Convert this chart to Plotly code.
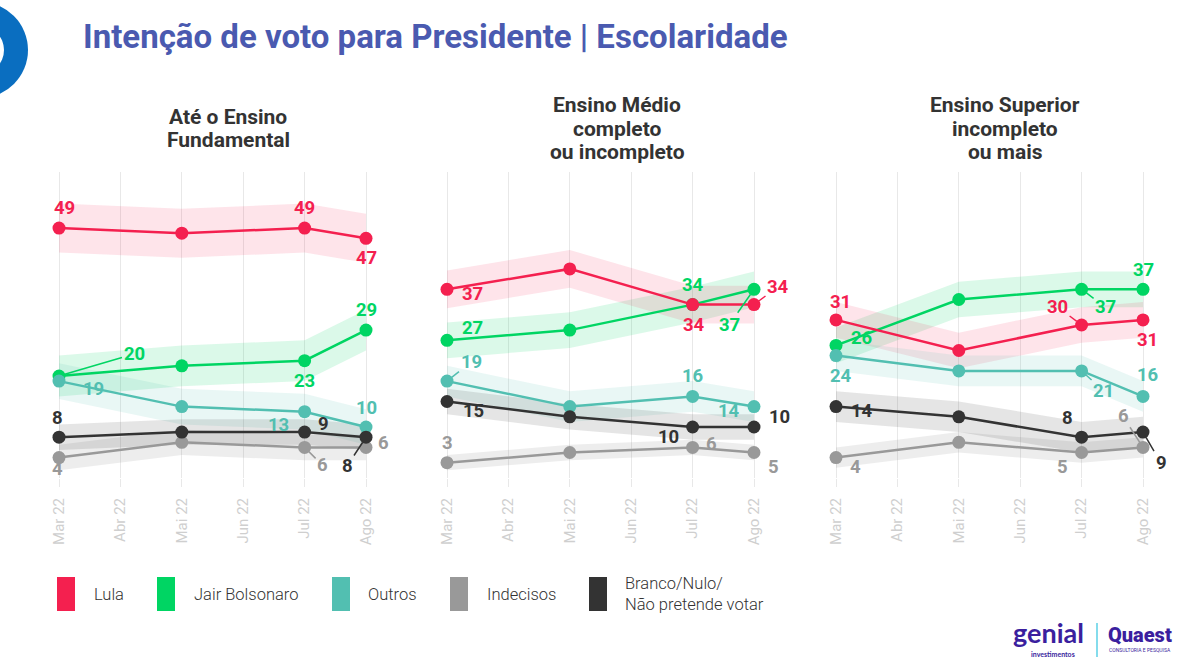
import plotly.graph_objects as go

# ---------------- data ----------------
months = ["Mar 22", "Abr 22", "Mai 22", "Jun 22", "Jul 22", "Ago 22"]
survey_months = ["Mar 22", "Mai 22", "Jul 22", "Ago 22"]
panel_titles = [["Até o Ensino", "Fundamental"],
                ["Ensino Médio", "completo", "ou incompleto"],
                ["Ensino Superior", "incompleto", "ou mais"]]
series_names = ["Lula", "Jair Bolsonaro", "Outros", "Indecisos",
                "Branco/Nulo/<br>Não pretende votar"]

# values per panel (Fundamental, Médio, Superior), per survey month
lula = [[49, 48, 49, 47], [37, 41, 34, 34], [31, 25, 30, 31]]
bolsonaro = [[20, 22, 23, 29], [27, 29, 34, 37], [26, 35, 37, 37]]
outros = [[19, 14, 13, 10], [19, 14, 16, 14], [24, 21, 21, 16]]
indecisos = [[4, 7, 6, 6], [3, 5, 6, 5], [4, 7, 5, 6]]
branco = [[8, 9, 9, 8], [15, 12, 10, 10], [14, 12, 8, 9]]

# margin-of-error half widths of the shaded bands (p.p.), per panel
moe_lula = [4.8, 3.7, 3.5]
moe_bolsonaro = [4.0, 3.5, 3.5]
moe_outros = [3.5, 3.0, 3.0]
moe_indecisos = [2.5, 1.5, 2.0]
moe_branco = [2.5, 2.5, 3.0]

# ---------------- style ----------------
colors = ["#F4204F", "#00D563", "#52BFB1", "#999999", "#333333"]
band_colors = ["rgba(244,32,79,0.12)", "rgba(0,213,99,0.14)",
               "rgba(82,191,177,0.13)", "rgba(130,130,130,0.14)",
               "rgba(51,51,51,0.13)"]
values = [lula, bolsonaro, outros, indecisos, branco]
moes = [moe_lula, moe_bolsonaro, moe_outros, moe_indecisos, moe_branco]
draw_order = [1, 0, 2, 3, 4]

W, H = 1200, 670
def px(x):
    return x / W
def py(y):
    return 1 - y / H

unit = 61.4
mar_px = [59, 447, 836]
xr = [-0.4, 5.6]
y_dom = [py(478), py(172)]

xs = [months.index(m) for m in survey_months]

fig = go.Figure()

for p in range(3):
    xa = "x" if p == 0 else f"x{p+1}"
    ya = "y" if p == 0 else f"y{p+1}"
    # bands
    for s in draw_order:
        v = values[s][p]
        m = moes[s][p]
        up = [a + m for a in v]
        lo = [a - m for a in v]
        fig.add_trace(go.Scatter(
            x=xs + xs[::-1], y=up + lo[::-1], fill="toself",
            fillcolor=band_colors[s], line=dict(width=0), mode="lines",
            hoverinfo="skip", xaxis=xa, yaxis=ya, showlegend=False))
    # lines
    for s in draw_order:
        fig.add_trace(go.Scatter(
            x=xs, y=values[s][p], mode="lines+markers",
            line=dict(color=colors[s], width=2.5),
            marker=dict(color=colors[s], size=13),
            name=series_names[s], xaxis=xa, yaxis=ya, showlegend=False))

# label placements: (panel, series, point, dx, dy, leader)
labels = [
    (0, 0, 0, 5, -20, False), (0, 0, 2, 0, -20, False), (0, 0, 3, 0, 20, False),
    (0, 1, 0, 75, -22, True), (0, 1, 2, 0, 20, False), (0, 1, 3, 0, -20, False),
    (0, 2, 0, 34, 8, False), (0, 2, 2, -26, 13, False), (0, 2, 3, 0, -19, False),
    (0, 4, 0, -2, -19, False), (0, 4, 2, 19, -8, False), (0, 4, 3, -19, 29, True),
    (0, 3, 0, -2, 11, False), (0, 3, 2, 18, 18, True), (0, 3, 3, 17, -4, False),

    (1, 0, 0, 25, 5, False), (1, 0, 2, 1, 20, False), (1, 0, 3, 24, -18, True),
    (1, 1, 0, 25, -12, False), (1, 1, 2, 0, -20, False), (1, 1, 3, -25, 36, True),
    (1, 2, 0, 24, -19, True), (1, 2, 2, 0, -20, False), (1, 2, 3, -25, 4, False),
    (1, 4, 0, 26, 9, False), (1, 4, 2, -24, 10, False), (1, 4, 3, 25, -10, False),
    (1, 3, 0, 0, -20, False), (1, 3, 2, 19, -3, False), (1, 3, 3, 19, 14, False),

    (2, 0, 0, 4, -18, False), (2, 0, 2, -24, -18, True), (2, 0, 3, 4, 20, False),
    (2, 1, 0, 25, -7, False), (2, 1, 2, 24, 18, True), (2, 1, 3, 0, -19, False),
    (2, 2, 0, 5, 20, False), (2, 2, 2, 22, 20, True), (2, 2, 3, 4, -21, False),
    (2, 4, 0, 26, 4, False), (2, 4, 2, -14, -19, False), (2, 4, 3, 18, 31, True),
    (2, 3, 0, 19, 9, False), (2, 3, 2, -19, 14, False), (2, 3, 3, -20, -31, True),
]

annotations = []
for (p, s, i, dx, dy, leader) in labels:
    xa = "x" if p == 0 else f"x{p+1}"
    ya = "y" if p == 0 else f"y{p+1}"
    val = values[s][p][i]
    base = dict(x=xs[i], y=val, xref=xa, yref=ya, text=str(val),
                font=dict(family="Roboto", size=18.5, color=colors[s], weight="bold"))
    if leader:
        base.update(showarrow=True, arrowhead=0, arrowwidth=1.5,
                    arrowcolor=colors[s], ax=dx, ay=dy, standoff=6)
    else:
        base.update(showarrow=False, xshift=dx, yshift=-dy)
    annotations.append(base)

# panel titles (one annotation per line for tight line spacing)
title_cx = [228, 617, 1005]
line_gap = 23.5
for p in range(3):
    lines = panel_titles[p]
    n = len(lines)
    for k, t in enumerate(lines):
        yc = 128.5 + (k - (n - 1) / 2) * line_gap
        annotations.append(dict(
            x=px(title_cx[p]), y=py(yc), xref="paper", yref="paper",
            text=t, showarrow=False, xanchor="center", yanchor="middle",
            font=dict(family="Roboto", size=21, color="#333333", weight="bold")))

# main title
annotations.append(dict(
    x=px(81), y=py(36), xref="paper", yref="paper",
    text="Intenção de voto para Presidente | Escolaridade", showarrow=False,
    xanchor="left", yanchor="middle",
    font=dict(family="Roboto", size=33, color="#4A5AB0", weight="bold")))

shapes = []
# blue ring at top-left corner
shapes.append(dict(type="circle", xref="paper", yref="paper",
                   x0=px(-68), x1=px(28), y0=py(98), y1=py(2),
                   fillcolor="#0A6EC0", line=dict(width=0)))
shapes.append(dict(type="circle", xref="paper", yref="paper",
                   x0=px(-44), x1=px(4), y0=py(74), y1=py(26),
                   fillcolor="white", line=dict(width=0)))

# legend
legend_swatch_x = [57, 157, 332, 450, 589]
legend_text_x = [92, 192, 366, 485, 623]
for s in range(5):
    shapes.append(dict(type="rect", xref="paper", yref="paper",
                       x0=px(legend_swatch_x[s]), x1=px(legend_swatch_x[s] + 18),
                       y0=py(611), y1=py(577), fillcolor=colors[s],
                       line=dict(width=0)))
    annotations.append(dict(
        x=px(legend_text_x[s]), y=py(594), xref="paper", yref="paper",
        text=series_names[s], showarrow=False, xanchor="left", yanchor="middle",
        align="left",
        font=dict(family="Roboto", size=16.5, color="#333333", weight=300)))

# footer logos (text)
annotations.append(dict(x=px(1048), y=py(632), xref="paper", yref="paper",
                        text="genial", showarrow=False, xanchor="center",
                        yanchor="middle",
                        font=dict(family="Lato", size=27, color="#3B1F9E", weight="bold")))
annotations.append(dict(x=px(1053), y=py(654), xref="paper", yref="paper",
                        text="investimentos", showarrow=False, xanchor="center",
                        yanchor="middle",
                        font=dict(family="Lato", size=7, color="#3B1F9E", weight="bold")))
shapes.append(dict(type="line", xref="paper", yref="paper",
                   x0=px(1097), x1=px(1097), y0=py(623), y1=py(657),
                   line=dict(color="#33C5E0", width=1.2)))
annotations.append(dict(x=px(1140), y=py(635), xref="paper", yref="paper",
                        text="Quaest", showarrow=False, xanchor="center",
                        yanchor="middle",
                        font=dict(family="Roboto", size=20, color="#3B1F9E", weight=900)))
annotations.append(dict(x=px(1140), y=py(650), xref="paper", yref="paper",
                        text="CONSULTORIA E PESQUISA", showarrow=False,
                        xanchor="center", yanchor="middle",
                        font=dict(family="Roboto", size=5, color="#3B1F9E")))

layout = dict(width=W, height=H, margin=dict(l=0, r=0, t=0, b=0),
              paper_bgcolor="white", plot_bgcolor="white", showlegend=False,
              annotations=annotations, shapes=shapes)

for p in range(3):
    x0 = mar_px[p] + xr[0] * unit
    x1 = mar_px[p] + xr[1] * unit
    xkey = "xaxis" if p == 0 else f"xaxis{p+1}"
    ykey = "yaxis" if p == 0 else f"yaxis{p+1}"
    layout[xkey] = dict(domain=[px(x0), px(x1)], range=xr,
                        anchor="y" if p == 0 else f"y{p+1}",
                        tickvals=list(range(len(months))), ticktext=months,
                        tickangle=-90, showgrid=True, gridcolor="#E8E8E8",
                        gridwidth=1, zeroline=False, showline=False,
                        ticks="outside", ticklen=8, tickcolor="#E8E8E8",
                        ticklabelstandoff=5,
                        tickfont=dict(family="Roboto", size=15, color="#CFCFCF"),
                        fixedrange=True)
    layout[ykey] = dict(domain=y_dom, range=[0, 60], visible=False,
                        anchor="x" if p == 0 else f"x{p+1}", fixedrange=True)

fig.update_layout(**layout)
fig.write_html("out.html",
               config={"displayModeBar": False},
               post_script="document.body.style.margin='0';"
                           "document.body.style.overflow='hidden';")
